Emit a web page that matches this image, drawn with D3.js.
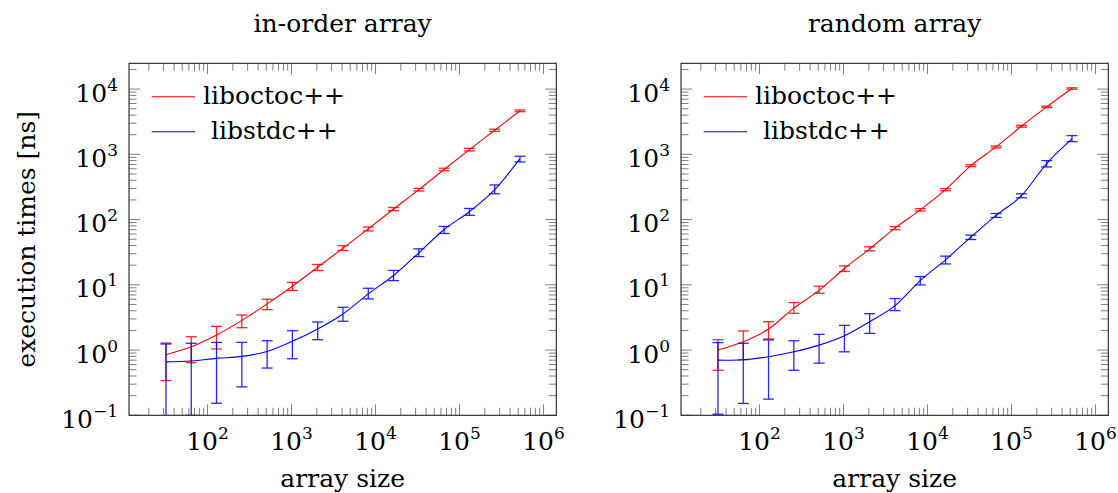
<!DOCTYPE html>
<html>
<head>
<meta charset="utf-8">
<script src="https://cdn.jsdelivr.net/npm/d3@7"></script>
<style>
  body { margin: 0; background: #fff; }
  svg text { font-family: "DejaVu Serif", serif; fill: #000; }
</style>
</head>
<body>
<svg id="chart" width="1118" height="493" font-family="DejaVu Serif"></svg>
<script>
// Array sizes (2^5 .. 2^19)
const sizes = [32, 64, 128, 256, 512, 1024, 2048, 4096, 8192, 16384, 32768, 65536, 131072, 262144, 524288];

// In-order array, execution times [ns]: mean, lower and upper error bound
const inorderOctoc     = [0.85, 1.12, 1.7, 2.85, 5.1, 9.5, 18.6, 36.5, 72, 145, 287, 585, 1180, 2340, 4640];
const inorderOctocLow  = [0.34, 0.64, 1.04, 2.2, 4.16, 8.2, 16.6, 33.6, 67, 137, 274, 560, 1125, 2250, 4500];
const inorderOctocHigh = [1.28, 1.6, 2.31, 3.45, 6.0, 10.9, 20.5, 39.8, 77, 153, 300, 612, 1235, 2430, 4780];

const inorderStd      = [0.66, 0.68, 0.745, 0.8, 0.95, 1.36, 2.1, 3.57, 7.25, 13.9, 30.9, 70.5, 132, 287, 859];
const inorderStdLow   = [0.05, 0.1, 0.153, 0.273, 0.53, 0.736, 1.44, 2.76, 6.07, 11.6, 27.1, 61.2, 116, 249, 764];
const inorderStdHigh  = [1.24, 1.27, 1.31, 1.31, 1.39, 1.98, 2.69, 4.52, 8.85, 16.6, 35.6, 78.5, 148, 339, 934];

// Random array, execution times [ns]
const randomOctoc     = [1.0, 1.34, 2.1, 4.4, 8.2, 17.8, 35.6, 74, 141, 287, 670, 1298, 2695, 5340, 10200];
const randomOctocLow  = [0.49, 0.71, 1.48, 3.66, 7.42, 16.0, 33.2, 70, 135, 276, 648, 1255, 2610, 5200, 9950];
const randomOctocHigh = [1.44, 1.96, 2.72, 5.33, 9.5, 19.5, 38.2, 78, 147, 298, 692, 1342, 2780, 5480, 10450];

const randomStd       = [0.70, 0.71, 0.79, 0.94, 1.19, 1.66, 2.72, 4.8, 11.6, 24.1, 53.8, 116, 232, 720, 1722];
const randomStdLow    = [0.104, 0.152, 0.177, 0.49, 0.63, 0.94, 1.8, 4.02, 9.96, 20.9, 49.5, 108, 216, 640, 1567];
const randomStdHigh   = [1.3, 1.27, 1.43, 1.39, 1.74, 2.39, 3.61, 6.15, 13.4, 27.5, 57.7, 124, 248, 800, 1936];

const seriesNames = ["liboctoc++", " libstdc++"];
const seriesColors = ["#ff0000", "#0000ff"];
const panelTitles = ["in-order array", "random array"];
const xTickExponents = [2, 3, 4, 5, 6];
const yTickExponents = [-1, 0, 1, 2, 3, 4];
const xLabel = "array size";
const yLabel = "execution times [ns]";

const panels = [
  { title: panelTitles[0], left: 129, series: [
      { name: seriesNames[0], color: seriesColors[0], y: inorderOctoc, lo: inorderOctocLow, hi: inorderOctocHigh },
      { name: seriesNames[1], color: seriesColors[1], y: inorderStd, lo: inorderStdLow, hi: inorderStdHigh } ] },
  { title: panelTitles[1], left: 681, series: [
      { name: seriesNames[0], color: seriesColors[0], y: randomOctoc, lo: randomOctocLow, hi: randomOctocHigh },
      { name: seriesNames[1], color: seriesColors[1], y: randomStd, lo: randomStdLow, hi: randomStdHigh } ] }
];

const W = 427.3, plotTop = 63.3, plotBottom = 415.3;
const FS = 25, SUP = 17;
const svg = d3.select("#chart");

function powLabel(sel, exp) {
  sel.text("10");
  sel.append("tspan")
    .attr("dy", -11)
    .attr("font-size", SUP)
    .text(exp < 0 ? "\u2212" + (-exp) : String(exp));
}

panels.forEach((p, pi) => {
  const x = d3.scaleLog().domain([Math.pow(10, 1.065), Math.pow(10, 6.152)]).range([p.left, p.left + W]);
  const y = d3.scaleLog().domain([0.1, Math.pow(10, 4.395)]).range([plotBottom, plotTop]);
  const g = svg.append("g");

  const clipId = "clip" + pi;
  g.append("clipPath").attr("id", clipId).append("rect")
    .attr("x", p.left).attr("y", plotTop).attr("width", W).attr("height", plotBottom - plotTop);

  // minor and major ticks on all four sides, pointing inward
  const [xd0, xd1] = x.domain();
  const xMinor = [], yMinor = [];
  for (let e = 1; e <= 6; e++) for (let m = 1; m < 10; m++) {
    const v = m * Math.pow(10, e);
    if (v >= xd0 && v <= xd1) xMinor.push({ v, major: m === 1 });
  }
  const [yd0, yd1] = y.domain();
  for (let e = -1; e <= 4; e++) for (let m = 1; m < 10; m++) {
    const v = m * Math.pow(10, e);
    if (v >= yd0 * 0.999 && v <= yd1) yMinor.push({ v, major: m === 1 });
  }
  const tickG = g.append("g").attr("stroke", "#6e6e6e").attr("stroke-width", 0.9);
  xMinor.forEach(t => {
    const len = t.major ? 11 : 7.5;
    const xx = x(t.v);
    tickG.append("line").attr("x1", xx).attr("x2", xx).attr("y1", plotBottom).attr("y2", plotBottom - len);
    tickG.append("line").attr("x1", xx).attr("x2", xx).attr("y1", plotTop).attr("y2", plotTop + len);
  });
  yMinor.forEach(t => {
    const len = t.major ? 11 : 7.5;
    const yy = y(t.v);
    tickG.append("line").attr("x1", p.left).attr("x2", p.left + len).attr("y1", yy).attr("y2", yy);
    tickG.append("line").attr("x1", p.left + W).attr("x2", p.left + W - len).attr("y1", yy).attr("y2", yy);
  });

  // tick labels
  xTickExponents.forEach(e => {
    g.append("text").attr("x", x(Math.pow(10, e))).attr("y", 450)
      .attr("text-anchor", "middle").attr("font-size", FS).call(powLabel, e);
  });
  yTickExponents.forEach(e => {
    g.append("text").attr("x", p.left - 11).attr("y", y(Math.pow(10, e)) + 12.5)
      .attr("text-anchor", "end").attr("font-size", FS).call(powLabel, e);
  });

  // data: smooth lines and error bars
  const plot = g.append("g").attr("clip-path", `url(#${clipId})`);
  const line = d3.line().curve(d3.curveCatmullRom.alpha(0)).x(d => x(d.x)).y(d => y(d.y));
  p.series.forEach(s => {
    const pts = sizes.map((sz, i) => ({ x: sz, y: s.y[i], lo: s.lo[i], hi: s.hi[i] }));
    plot.append("path").datum(pts).attr("d", line)
      .attr("fill", "none").attr("stroke", s.color).attr("stroke-width", 1.1);
    const eb = plot.append("g").attr("stroke", s.color).attr("stroke-width", 1.3).attr("opacity", 0.85);
    pts.forEach(d => {
      const xx = x(d.x);
      eb.append("line").attr("x1", xx).attr("x2", xx).attr("y1", y(d.lo)).attr("y2", y(d.hi));
      [d.lo, d.hi].forEach(v => {
        eb.append("line").attr("x1", xx - 5.5).attr("x2", xx + 5.5).attr("y1", y(v)).attr("y2", y(v));
      });
    });
  });

  // frame
  g.append("rect").attr("x", p.left).attr("y", plotTop).attr("width", W).attr("height", plotBottom - plotTop)
    .attr("fill", "none").attr("stroke", "#222").attr("stroke-width", 1.1);

  // legend
  p.series.forEach((s, i) => {
    const ly = 96.7 + i * 35;
    g.append("line").attr("x1", p.left + 22.7).attr("x2", p.left + 66).attr("y1", ly).attr("y2", ly)
      .attr("stroke", s.color).attr("stroke-width", 1.1);
    g.append("text").attr("x", p.left + 74).attr("y", ly + 7.5).attr("font-size", FS)
      .attr("xml:space", "preserve").style("white-space", "pre").text(s.name);
  });

  // title and x label
  g.append("text").attr("x", p.left + W / 2).attr("y", 31.7).attr("text-anchor", "middle")
    .attr("font-size", FS).text(p.title);
  g.append("text").attr("x", p.left + W / 2).attr("y", 487).attr("text-anchor", "middle")
    .attr("font-size", FS).text(xLabel);
});

// shared y label
svg.append("text").attr("transform", `translate(35,${(plotTop + plotBottom) / 2}) rotate(-90)`)
  .attr("text-anchor", "middle").attr("font-size", FS).text(yLabel);
</script>
</body>
</html>
